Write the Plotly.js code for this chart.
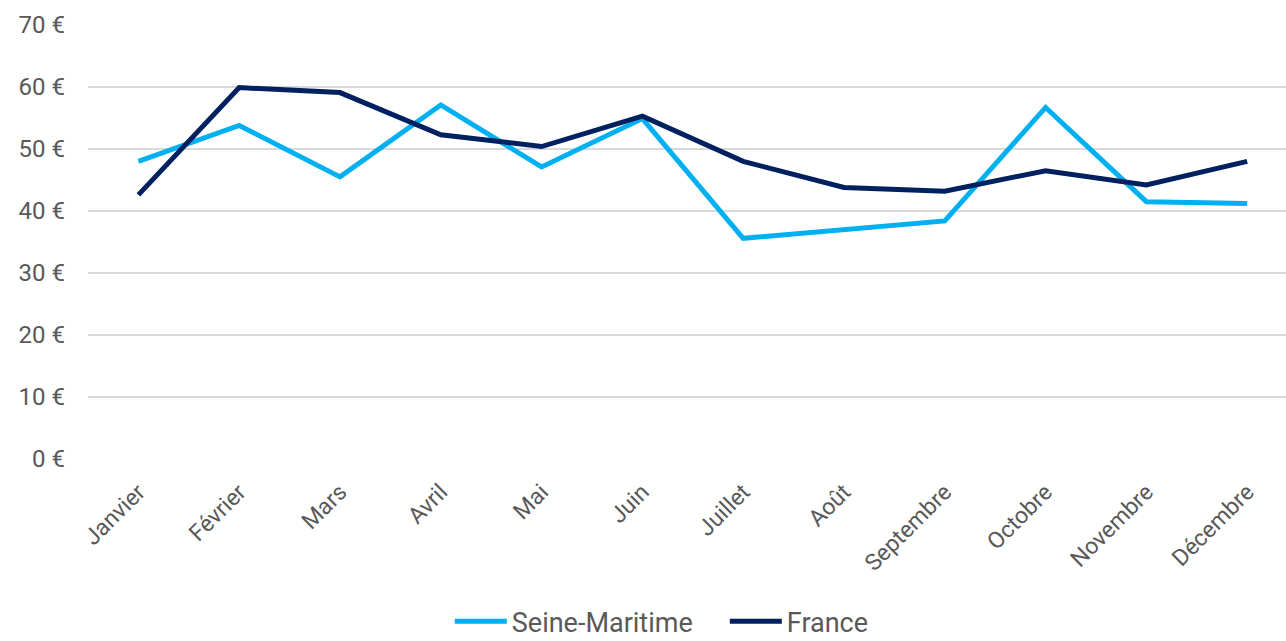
<!DOCTYPE html>
<html><head><meta charset="utf-8">
<script src="https://cdn.plot.ly/plotly-3.0.1.min.js"></script>
<style>html,body{margin:0;padding:0;background:#fff;}#chart{width:1286px;height:641px;}</style>
</head><body><div id="chart"></div>
<script>
const months = ["Janvier","Février","Mars","Avril","Mai","Juin","Juillet","Août","Septembre","Octobre","Novembre","Décembre"];
const seineMaritime = [48.0, 53.8, 45.5, 57.1, 47.1, 54.9, 35.6, 36.9, 38.4, 56.7, 41.5, 41.2];
const france = [42.6, 59.9, 59.1, 52.3, 50.4, 55.3, 48.0, 43.8, 43.2, 46.5, 44.2, 48.0];
const yTicks = [0,10,20,30,40,50,60,70];
const yTickText = yTicks.map(v => v + " €");

const font = "Roboto, 'Liberation Sans', sans-serif";
const traces = [
  {x: months, y: seineMaritime, name: "Seine-Maritime", type: "scatter", mode: "lines",
   line: {color: "#00B0F0", width: 5}},
  {x: months, y: france, name: "France", type: "scatter", mode: "lines",
   line: {color: "#002060", width: 5}}
];
const layout = {
  width: 1286, height: 641,
  margin: {l: 88, r: 0, t: 25, b: 182, autoexpand: false},
  paper_bgcolor: "#fff", plot_bgcolor: "#fff",
  font: {family: font, color: "#595959", size: 22},
  showlegend: true,
  legend: {orientation: "h", x: 0.302, xanchor: "left", yref: "container", y: 0.03, yanchor: "middle",
           font: {size: 27, color: "#595959"}, itemwidth: 52, entrywidth: 208, entrywidthmode: "pixels",
           traceorder: "normal"},
  xaxis: {type: "category", range: [-0.5, 11.385], tickangle: -45, showgrid: false, automargin: false,
          zeroline: false, showline: false, ticks: "", ticklabelstandoff: 14,
          tickfont: {size: 23, color: "#595959"}},
  yaxis: {range: [0, 70], tickvals: yTicks, ticktext: yTickText, showgrid: true, automargin: false,
          gridcolor: "#D9D9D9", gridwidth: 2, zeroline: false, showline: false,
          ticks: "", ticklabelstandoff: 22, tickfont: {size: 24, color: "#595959"}}
};
Plotly.newPlot("chart", traces, layout, {displayModeBar: false, staticPlot: true});
</script></body></html>
